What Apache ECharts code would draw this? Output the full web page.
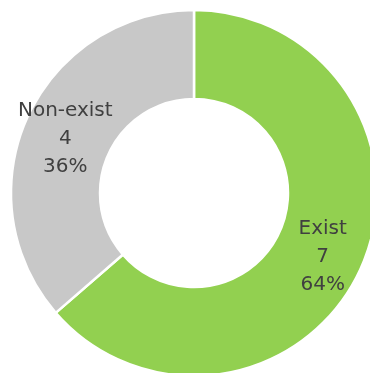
<!DOCTYPE html>
<html><head><meta charset="utf-8">
<script src="https://cdn.jsdelivr.net/npm/echarts@6/dist/echarts.min.js"></script>
<style>html,body{margin:0;padding:0;background:#fff}#c{width:370px;height:373px}</style>
</head><body><div id="c"></div>
<script>
const categories = ['Exist', 'Non-exist'];
const values = [7, 4];
const colors = ['#92D050', '#C8C8C8'];
const chart = echarts.init(document.getElementById('c'));
chart.setOption({
  animation: false,
  series: [{
    type: 'pie',
    center: [194, 193],
    radius: [94, 183],
    startAngle: 90,
    clockwise: true,
    itemStyle: { borderColor: '#fff', borderWidth: 2.5 },
    label: {
      show: true,
      position: 'inside',
      color: '#404040',
      fontFamily: 'DejaVu Sans',
      fontSize: 20,
      lineHeight: 28,
      rich: { s: { fontSize: 1, lineHeight: 10 } },
      formatter: p => '{s| }\n' + p.name + '\n' + p.value + '\n' + Math.round(p.percent) + '%'
    },
    labelLine: { show: false },
    data: categories.map((c, i) => ({ name: c, value: values[i], itemStyle: { color: colors[i] } }))
  }]
});
</script></body></html>
